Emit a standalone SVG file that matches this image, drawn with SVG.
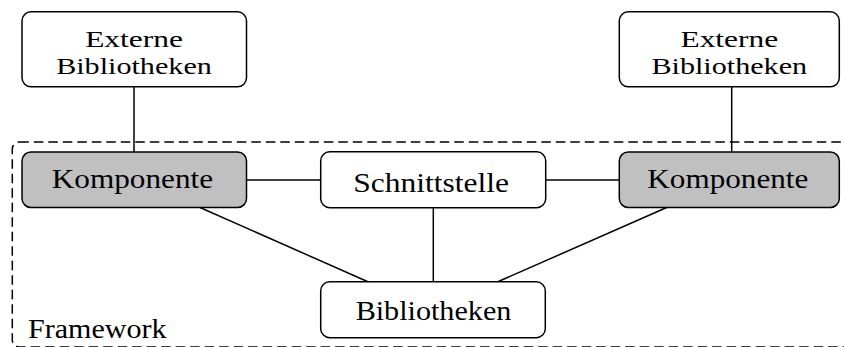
<svg xmlns="http://www.w3.org/2000/svg" width="844" height="347" viewBox="0 0 844 347">
  <style>
    .box { fill: #ffffff; stroke: #000000; stroke-width: 1.5; }
    .comp { fill: #c0c0c0; stroke: #000000; stroke-width: 1.5; }
    .frame { fill: none; stroke: #000000; stroke-width: 1.5; stroke-dasharray: 9.5 5; }
    .edge { stroke: #000000; stroke-width: 1.5; fill: none; }
    text { font-family: "Liberation Serif", "DejaVu Serif", serif; font-size: 28px; fill: #000000; text-anchor: middle; }
    .two { font-size: 24px; }
    .lbl { text-anchor: start; }
  </style>

  <!-- framework boundary -->
  <g id="framework">
    <rect class="frame" x="12.3" y="142" width="846" height="205" rx="7"/>
    <text class="lbl" x="28" y="338" textLength="138.5" lengthAdjust="spacingAndGlyphs">Framework</text>
  </g>

  <!-- connectors -->
  <g id="connectors">
    <line class="edge" x1="134" y1="87" x2="134" y2="152"/>
    <line class="edge" x1="731.7" y1="87" x2="731.7" y2="152"/>
    <line class="edge" x1="246.5" y1="180" x2="320.7" y2="180"/>
    <line class="edge" x1="545.7" y1="180" x2="619.3" y2="180"/>
    <line class="edge" x1="433.3" y1="207.7" x2="433.3" y2="282"/>
    <line class="edge" x1="200" y1="207.5" x2="368.5" y2="282"/>
    <line class="edge" x1="666.7" y1="207.5" x2="497.3" y2="282"/>
  </g>

  <g id="ext-left">
    <rect class="box" x="22" y="11.8" width="224.5" height="75" rx="9"/>
    <text class="two" x="134" y="46.7" textLength="97.7" lengthAdjust="spacingAndGlyphs">Externe</text>
    <text class="two" x="134" y="74" textLength="155.7" lengthAdjust="spacingAndGlyphs">Bibliotheken</text>
  </g>

  <g id="ext-right">
    <rect class="box" x="619.3" y="11.8" width="220" height="75" rx="9"/>
    <text class="two" x="729.3" y="46.7" textLength="97.7" lengthAdjust="spacingAndGlyphs">Externe</text>
    <text class="two" x="729.3" y="74" textLength="155.7" lengthAdjust="spacingAndGlyphs">Bibliotheken</text>
  </g>

  <g id="comp-left">
    <rect class="comp" x="22" y="152" width="224.5" height="55.5" rx="9"/>
    <text x="132.4" y="188.3" textLength="161.3" lengthAdjust="spacingAndGlyphs">Komponente</text>
  </g>

  <g id="interface">
    <rect class="box" x="320.7" y="151.8" width="225" height="55.9" rx="9"/>
    <text x="431.2" y="191.5" textLength="155.7" lengthAdjust="spacingAndGlyphs">Schnittstelle</text>
  </g>

  <g id="comp-right">
    <rect class="comp" x="619.3" y="152" width="220" height="55.5" rx="9"/>
    <text x="727.8" y="188.3" textLength="161" lengthAdjust="spacingAndGlyphs">Komponente</text>
  </g>

  <g id="libraries">
    <rect class="box" x="320.7" y="281.8" width="224.6" height="55.9" rx="9"/>
    <text x="433.5" y="320" textLength="155.7" lengthAdjust="spacingAndGlyphs">Bibliotheken</text>
  </g>
</svg>
